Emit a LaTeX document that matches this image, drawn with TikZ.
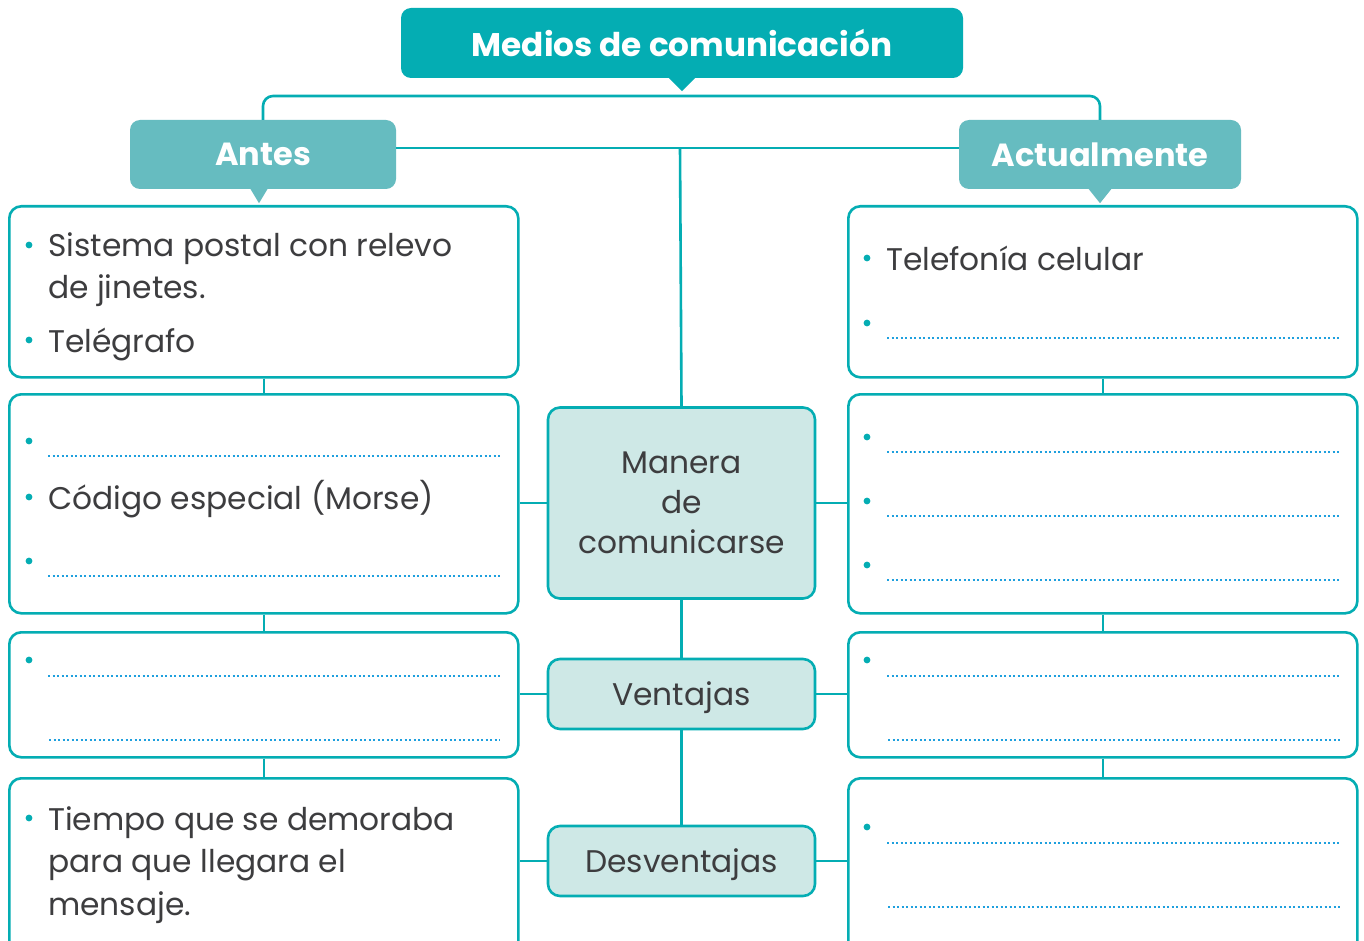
\documentclass[tikz,border=0pt]{standalone}
\usepackage{fontspec}
\setmainfont{Poppins}
\usetikzlibrary{calc}
\definecolor{tealA}{HTML}{04ADB3}
\definecolor{tealB}{HTML}{66BCC0}
\definecolor{paleC}{HTML}{CEE8E6}
\definecolor{txtC}{HTML}{3D3D3F}
\definecolor{dotC}{HTML}{1FA0DE}
\newcommand{\bodyfont}{\fontsize{31.3}{40}\selectfont}
\newcommand{\headfont}{\fontsize{32}{38}\selectfont\bfseries}
\newcommand{\titlefont}{\fontsize{32.7}{38}\selectfont\bfseries}
\begin{document}
\begin{tikzpicture}[x=1pt,y=-1pt,
  wbox/.style={draw=tealA, line width=2.6pt, rounded corners=12pt, fill=white, anchor=north west, inner sep=0pt, minimum width=509pt},
  cbox/.style={draw=tealA, line width=2.6pt, rounded corners=12pt, fill=paleC, inner sep=0pt, text=txtC, font=\bodyfont, align=center, minimum width=267pt, text depth=0pt},
  headbox/.style={fill=tealB, rounded corners=10pt, text=white, font=\headfont, inner sep=0pt, minimum height=69pt},
  titlebox/.style={fill=tealA, rounded corners=10pt, text=white, font=\titlefont, inner sep=0pt, minimum width=562pt, minimum height=70pt},
  conn/.style={draw=tealA, line width=2.6pt},
  tline/.style={anchor=base west, text=txtC, font=\bodyfont, inner sep=0pt},
  dotl/.style={draw=dotC, line width=2.2pt, dash pattern=on 2.2pt off 2.3pt},
  bul/.style={fill=tealA}
]
\useasboundingbox (0,0) rectangle (1364,941);
\fill[white] (0,0) rectangle (1364,941);

% title and heads
\node[titlebox] (T) at (682,43) {Medios de comunicación};
\fill[tealA] ([xshift=-14pt,yshift=1pt]T.south) -- ([yshift=-13pt]T.south) -- ([xshift=14pt,yshift=1pt]T.south) -- cycle;
\node[headbox, minimum width=266pt] (A) at (263,154.5) {Antes};
\node[headbox, minimum width=282pt] (C) at (1100,154.5) {Actualmente};
\fill[tealB] ([xshift=-13pt,yshift=1pt]A.south) -- ([xshift=-4pt,yshift=-14pt]A.south) -- ([xshift=5pt,yshift=1pt]A.south) -- cycle;
\fill[tealB] ([xshift=-12pt,yshift=1pt]C.south) -- ([yshift=-14pt]C.south) -- ([xshift=12pt,yshift=1pt]C.south) -- cycle;

\coordinate (bar) at (682,96);
\coordinate (hub) at (680,148);

% boxes
\node[wbox, minimum height=171pt] (L1) at (8,205) {};
\node[wbox, minimum height=219pt] (L2) at (8,393) {};
\node[wbox, minimum height=125pt] (L3) at (8,631) {};
\node[wbox, minimum height=178pt] (L4) at (8,777) {};
\node[wbox, minimum height=171pt] (R1) at (847,205) {};
\node[wbox, minimum height=219pt] (R2) at (847,393) {};
\node[wbox, minimum height=125pt] (R3) at (847,631) {};
\node[wbox, minimum height=178pt] (R4) at (847,777) {};

\node[cbox, minimum height=191pt] (M) at (681.5,503) {Manera\\de\\comunicarse};
\node[cbox, minimum height=70pt] (V) at (681.5,694) {Ventajas};
\node[cbox, minimum height=70pt] (D) at (681.5,861) {Desventajas};

% connectors
\draw[conn, rounded corners=10pt] (A.north) -- (A.north |- bar) -- (C.north |- bar) -- (C.north);
\draw[conn] (A.east |- hub) -- (C.west |- hub);
\draw[conn] (hub) -- (M.north);
\draw[conn] (M.south) -- (V.north);
\draw[conn] (V.south) -- (D.north);
\draw[conn] (L1.south) -- (L2.north);
\draw[conn] (L2.south) -- (L3.north);
\draw[conn] (L3.south) -- (L4.north);
\draw[conn] (R1.south) -- (R2.north);
\draw[conn] (R2.south) -- (R3.north);
\draw[conn] (R3.south) -- (R4.north);
\draw[conn] (M.west) -- (M.west -| L2.east);
\draw[conn] (M.east) -- (M.east -| R2.west);
\draw[conn] (V.west) -- (V.west -| L3.east);
\draw[conn] (V.east) -- (V.east -| R3.west);
\draw[conn] (D.west) -- (D.west -| L4.east);
\draw[conn] (D.east) -- (D.east -| R4.west);

% left texts
\fill[bul] (29,245) circle (3.4);
\node[tline] (t1) at (48,257) {Sistema postal con relevo};
\node[tline] (t2) at (48,298) {de jinetes.};
\fill[bul] (29,340) circle (3.4);
\node[tline] (t3) at (48,352) {Telégrafo};

\fill[bul] (29,441) circle (3.4);
\draw[dotl] (48,456) -- (500,456);
\fill[bul] (29,497) circle (3.4);
\node[tline] (t4) at (48,509) {Código especial (Morse)};
\fill[bul] (29,561) circle (3.4);
\draw[dotl] (48,576) -- (500,576);

\fill[bul] (29,660) circle (3.4);
\draw[dotl] (48,676) -- (500,676);
\draw[dotl] (49,740) -- (500,740);

\fill[bul] (29,818) circle (3.4);
\node[tline] (t5) at (48,830) {Tiempo que se demoraba};
\node[tline] (t6) at (48,872) {para que llegara el};
\node[tline] (t7) at (48,915) {mensaje.};

% right texts
\fill[bul] (867,258) circle (3.4);
\node[tline] (t8) at (886,270) {Telefonía celular};
\fill[bul] (867,323) circle (3.4);
\draw[dotl] (887,338) -- (1340,338);

\fill[bul] (867,437) circle (3.4);
\draw[dotl] (887,452) -- (1340,452);
\fill[bul] (867,501) circle (3.4);
\draw[dotl] (887,516) -- (1340,516);
\fill[bul] (867,565) circle (3.4);
\draw[dotl] (887,580) -- (1340,580);

\fill[bul] (867,660) circle (3.4);
\draw[dotl] (887,676) -- (1340,676);
\draw[dotl] (888,740) -- (1340,740);

\fill[bul] (867,827) circle (3.4);
\draw[dotl] (887,843) -- (1340,843);
\draw[dotl] (888,907) -- (1340,907);
\end{tikzpicture}
\end{document}
